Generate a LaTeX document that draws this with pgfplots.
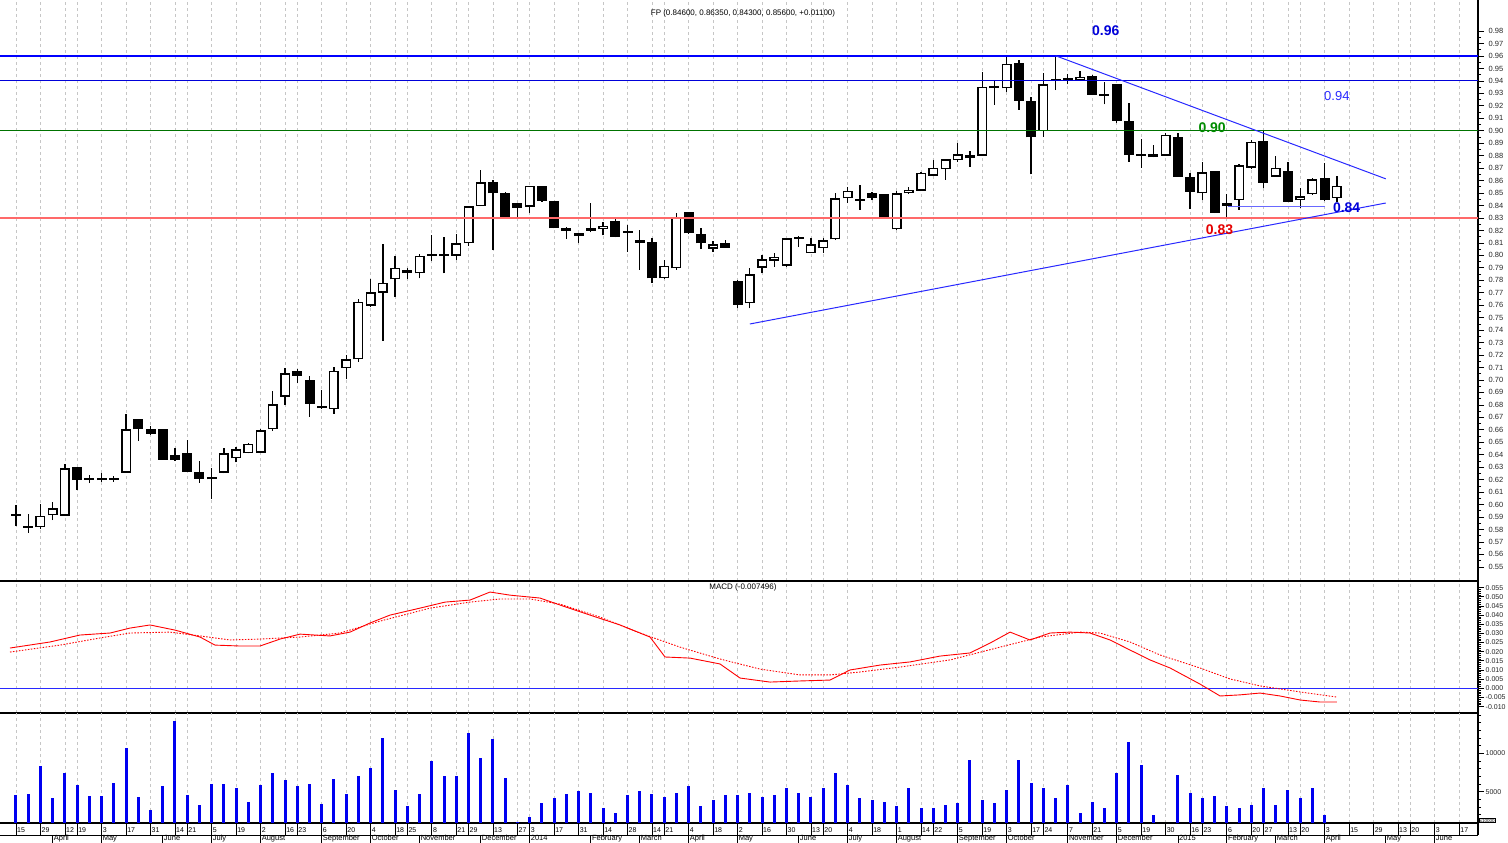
\documentclass[border=0pt]{standalone}
\usepackage{fontspec}
\setmainfont{Liberation Sans}
\usepackage{pgfplots}
\usepackage{pgfplotstable}
\pgfplotsset{compat=1.18}

\pgfplotstableread{
i o h l c
0 0.5920 0.5997 0.5828 0.5910
1 0.5812 0.5922 0.5774 0.5822
2 0.5818 0.6002 0.5802 0.5911
3 0.5914 0.6018 0.5876 0.5970
4 0.5911 0.6323 0.5910 0.6291
5 0.6299 0.6300 0.6117 0.6197
6 0.6203 0.6235 0.6171 0.6200
7 0.6200 0.6256 0.6183 0.6197
8 0.6200 0.6230 0.6183 0.6198
9 0.6256 0.6727 0.6256 0.6604
10 0.6687 0.6690 0.6510 0.6604
11 0.6606 0.6630 0.6560 0.6569
12 0.6606 0.6610 0.6358 0.6358
13 0.6398 0.6451 0.6350 0.6358
14 0.6411 0.6518 0.6262 0.6264
15 0.6259 0.6350 0.6176 0.6205
16 0.6203 0.6291 0.6045 0.6219
17 0.6256 0.6451 0.6250 0.6411
18 0.6371 0.6464 0.6339 0.6443
19 0.6411 0.6497 0.6410 0.6486
20 0.6416 0.6607 0.6410 0.6598
21 0.6604 0.6911 0.6594 0.6805
22 0.6866 0.7094 0.6799 0.7053
23 0.7074 0.7086 0.6973 0.7032
24 0.7000 0.7032 0.6705 0.6807
25 0.6794 0.6920 0.6770 0.6773
26 0.6765 0.7102 0.6727 0.7074
27 0.7094 0.7200 0.7005 0.7166
28 0.7166 0.7647 0.7147 0.7628
29 0.7596 0.7808 0.7588 0.7703
30 0.7700 0.8091 0.7315 0.7780
31 0.7808 0.7997 0.7668 0.7901
32 0.7883 0.7900 0.7810 0.7856
33 0.7856 0.8009 0.7816 0.7995
34 0.7995 0.8163 0.7957 0.7997
35 0.7995 0.8150 0.7856 0.7993
36 0.7995 0.8171 0.7963 0.8097
37 0.8097 0.8400 0.8075 0.8396
38 0.8396 0.8685 0.8396 0.8586
39 0.8586 0.8605 0.8043 0.8498
40 0.8503 0.8505 0.8300 0.8310
41 0.8418 0.8420 0.8310 0.8378
42 0.8391 0.8560 0.8338 0.8559
43 0.8559 0.8560 0.8431 0.8439
44 0.8439 0.8440 0.8217 0.8217
45 0.8222 0.8230 0.8131 0.8198
46 0.8177 0.8180 0.8097 0.8155
47 0.8198 0.8423 0.8185 0.8217
48 0.8209 0.8270 0.8161 0.8236
49 0.8276 0.8290 0.8145 0.8150
50 0.8182 0.8244 0.8029 0.8180
51 0.8102 0.8204 0.7883 0.8123
52 0.8110 0.8137 0.7781 0.7816
53 0.7816 0.7963 0.7810 0.7917
54 0.7896 0.8338 0.7883 0.8305
55 0.8346 0.8350 0.8175 0.8177
56 0.8171 0.8217 0.8049 0.8097
57 0.8051 0.8115 0.8030 0.8089
58 0.8097 0.8123 0.8060 0.8061
59 0.7797 0.7800 0.7575 0.7602
60 0.7615 0.7896 0.7575 0.7848
61 0.7901 0.8003 0.7856 0.7968
62 0.7955 0.8022 0.7909 0.7989
63 0.7915 0.8140 0.7910 0.8137
64 0.8131 0.8155 0.8065 0.8133
65 0.8017 0.8137 0.8017 0.8089
66 0.8057 0.8137 0.8017 0.8123
67 0.8129 0.8498 0.8123 0.8458
68 0.8458 0.8551 0.8423 0.8519
69 0.8439 0.8565 0.8364 0.8441
70 0.8498 0.8505 0.8444 0.8463
71 0.8490 0.8490 0.8300 0.8305
72 0.8209 0.8520 0.8200 0.8498
73 0.8498 0.8551 0.8495 0.8525
74 0.8517 0.8665 0.8515 0.8664
75 0.8637 0.8765 0.8635 0.8704
76 0.8691 0.8775 0.8605 0.8771
77 0.8765 0.8899 0.8752 0.8813
78 0.8805 0.8838 0.8711 0.8779
79 0.8800 0.9474 0.8800 0.9354
80 0.9362 0.9407 0.9207 0.9341
81 0.9341 0.9595 0.9313 0.9536
82 0.9546 0.9568 0.9167 0.9239
83 0.9239 0.9273 0.8650 0.8947
84 0.8998 0.9461 0.8952 0.9375
85 0.9400 0.9602 0.9327 0.9405
86 0.9407 0.9453 0.9373 0.9409
87 0.9402 0.9482 0.9400 0.9434
88 0.9442 0.9445 0.9285 0.9287
89 0.9280 0.9394 0.9212 0.9282
90 0.9375 0.9375 0.9060 0.9081
91 0.9078 0.9220 0.8752 0.8805
92 0.8797 0.8931 0.8704 0.8799
93 0.8787 0.8886 0.8787 0.8811
94 0.8800 0.8980 0.8800 0.8966
95 0.8947 0.8985 0.8630 0.8631
96 0.8631 0.8659 0.8372 0.8511
97 0.8498 0.8752 0.8444 0.8667
98 0.8677 0.8680 0.8338 0.8342
99 0.8396 0.8490 0.8297 0.8418
100 0.8444 0.8730 0.8364 0.8725
101 0.8704 0.8926 0.8693 0.8912
102 0.8920 0.8998 0.8538 0.8583
103 0.8631 0.8800 0.8630 0.8704
104 0.8677 0.8752 0.8430 0.8431
105 0.8444 0.8543 0.8383 0.8476
106 0.8490 0.8620 0.8485 0.8611
107 0.8623 0.8744 0.8440 0.8444
108 0.8460 0.8635 0.8430 0.8560
}\candles

\pgfplotstableread{
i v
0 4570
1 4660
2 8360
3 4140
4 7400
5 5870
6 4480
7 4480
8 6100
9 10740
10 4350
11 2570
12 5790
13 14270
14 4530
15 3220
16 5970
17 5970
18 5530
19 3610
20 5830
21 7400
22 6530
23 5790
24 5970
25 3350
26 6660
27 4660
28 7090
29 8050
30 12050
31 5180
32 3130
33 4740
34 9010
35 7090
36 7010
37 12620
38 9440
39 11840
40 6790
41 1000
42 1650
43 3480
44 4220
45 4660
46 5130
47 4870
48 2910
49 2220
50 4570
51 5130
52 4660
53 4350
54 4870
55 5700
56 3130
57 3920
58 4570
59 4570
60 4830
61 4310
62 4570
63 5480
64 4830
65 4310
66 5480
67 7440
68 5870
69 4180
70 3920
71 3660
72 3130
73 5480
74 2870
75 2870
76 3260
77 3520
78 9140
79 3920
80 3520
81 5220
82 9140
83 6140
84 5480
85 4180
86 5870
87 2220
88 3660
89 2870
90 7440
91 11490
92 8490
93 1960
94 520
95 7180
96 4830
97 4180
98 4440
99 3130
100 2870
101 3260
102 5480
103 3260
104 5220
105 4180
106 5480
107 1960
108 650
}\volume

\pgfplotstableread{
i m
-0.49 0.0220
2.78 0.0253
5.23 0.0291
7.69 0.0302
9.32 0.0329
10.96 0.0346
13.0 0.0318
15.05 0.0280
16.27 0.0236
18.32 0.0231
19.95 0.0231
21.59 0.0269
23.22 0.0296
25.67 0.0286
27.31 0.0307
28.95 0.0357
30.58 0.0400
33.03 0.0438
35.08 0.0471
37.12 0.0482
38.76 0.0526
40.39 0.0509
42.85 0.0493
44.48 0.0455
46.93 0.0400
49.39 0.0346
51.84 0.0280
53.07 0.0171
55.11 0.0165
57.56 0.0133
59.20 0.0056
61.65 0.0034
64.10 0.0040
66.56 0.0045
68.19 0.0100
70.65 0.0127
73.10 0.0144
75.55 0.0176
78.0 0.0193
79.64 0.0247
81.28 0.0307
82.91 0.0264
84.55 0.0302
86.18 0.0307
87.82 0.0302
89.45 0.0264
91.09 0.0209
92.72 0.0155
94.36 0.0111
96.81 0.0023
98.45 -0.0042
100.08 -0.0036
101.72 -0.0026
103.35 -0.0042
104.99 -0.0064
106.62 -0.0075
108.0 -0.0075
}\macd

\pgfplotstableread{
i s
-0.49 0.0198
3.60 0.0236
6.87 0.0275
9.32 0.0302
12.59 0.0307
15.05 0.0286
17.50 0.0264
19.95 0.0269
23.22 0.0280
26.49 0.0302
29.76 0.0367
33.85 0.0438
37.12 0.0471
39.57 0.0488
42.03 0.0488
44.48 0.0460
47.75 0.0389
51.02 0.0302
54.29 0.0225
57.56 0.0160
60.83 0.0105
64.10 0.0073
66.56 0.0073
69.01 0.0089
72.28 0.0116
76.37 0.0155
80.46 0.0225
83.73 0.0280
87.0 0.0307
88.63 0.0302
91.09 0.0253
93.54 0.0182
96.81 0.0111
99.26 0.0051
101.72 0.0013
104.99 -0.0020
108.0 -0.0048
}\signal

\def\dateticks{0,2,4,5,7,9,11,13,14,16,18,20,22,23,25,27,29,31,32,34,36,37,39,41,42,44,46,48,50,52,53,55,57,59,61,63,65,66,68,70,72,74,75,77,79,81,83,84,86,88,90,92,94,96,97,99,101,102,104,105,107,109,111,113,114,116,118}

\definecolor{lineblue}{RGB}{40,40,255}
\definecolor{linered}{RGB}{255,105,105}
\definecolor{lblgreen}{RGB}{0,140,0}
\definecolor{vol}{RGB}{0,0,240}

\pgfplotsset{
  panel/.style={
    scale only axis, width=1478pt, anchor=south west,
    xmin=-1.308, xmax=119.54,
    axis y line*=right, axis x line*=bottom,
    xtick/.expand once=\dateticks, xticklabels={}, xmajorticks=false,
    xmajorgrids,
    major grid style={gray!45, dash pattern=on 3pt off 3pt, line width=0.8pt},
    tick align=outside, major tick length=6pt, minor tick length=3pt,
    every tick/.style={black, line width=0.7pt},
    axis line style={black, line width=1.2pt},
    scaled y ticks=false,
    /pgf/number format/assume math mode=true,
    y tick label style={font=\fontsize{7}{8}\selectfont, text=black!85, inner sep=1.5pt},
  },
}

\begin{document}
\begin{tikzpicture}
\path[use as bounding box] (0pt,0pt) rectangle (1508pt,843pt);

% ---------------- price panel
\begin{axis}[panel, at={(0pt,262pt)}, height=581pt,
  ymin=0.53865, ymax=1.00494,
  ytick={0.55,0.56,0.57,0.58,0.59,0.60,0.61,0.62,0.63,0.64,0.65,0.66,0.67,0.68,0.69,0.70,0.71,0.72,0.73,0.74,0.75,0.76,0.77,0.78,0.79,0.80,0.81,0.82,0.83,0.84,0.85,0.86,0.87,0.88,0.89,0.90,0.91,0.92,0.93,0.94,0.95,0.96,0.97,0.98},
  minor y tick num=1,
  y tick label style={font=\fontsize{7.5}{8}\selectfont, xshift=3pt, /pgf/number format/fixed, /pgf/number format/fixed zerofill, /pgf/number format/precision=2},
]
% wicks
\addplot[draw=none, mark=none, forget plot,
  error bars/.cd, y dir=plus, y explicit, error mark=none,
  error bar style={draw=black, line width=1.3pt}]
  table[x=i, y=l, y error expr={\thisrow{h}-\thisrow{l}}] \candles;
% bodies (black)
\addplot[draw=none, mark=none, forget plot,
  error bars/.cd, y dir=plus, y explicit, error mark=none,
  error bar style={draw=black, line width=10pt}]
  table[x=i, y expr={min(\thisrow{o},\thisrow{c})}, y error expr={max(abs(\thisrow{c}-\thisrow{o}),0.0016)}] \candles;
% white interiors
\addplot[draw=none, mark=none, forget plot,
  restrict expr to domain={\thisrow{c}-\thisrow{o}}{0.0025:1},
  error bars/.cd, y dir=plus, y explicit, error mark=none,
  error bar style={draw=white, line width=7pt}]
  table[x=i, y expr={\thisrow{o}+0.0012}, y error expr={\thisrow{c}-\thisrow{o}-0.0024}] \candles;

% horizontal levels
\addplot[blue, line width=1.2pt] coordinates {(-1.308,0.96) (119.54,0.96)};
\addplot[blue!85!black, line width=1pt] coordinates {(-1.308,0.94) (119.54,0.94)};
\addplot[green!45!black, line width=0.9pt] coordinates {(-1.308,0.90) (119.54,0.90)};
\addplot[linered, line width=1.6pt] coordinates {(-1.308,0.83) (119.54,0.83)};
% trend lines
\addplot[lineblue, line width=1pt] coordinates {(85.0,0.9602) (112.0,0.8614)};
\addplot[lineblue, line width=1pt] coordinates {(60.0,0.7449) (112.0,0.8420)};
\addplot[lineblue!70, line width=1pt] coordinates {(99.1,0.8396) (107.0,0.8396)};

\node[font=\bfseries\fontsize{14}{14}\selectfont, text=blue!85!black] at (axis cs:89.1,0.9801) {0.96};
\node[font=\fontsize{13}{13}\selectfont, text=lineblue] at (axis cs:108.0,0.9279) {0.94};
\node[font=\bfseries\fontsize{14}{14}\selectfont, text=lblgreen] at (axis cs:97.8,0.9028) {0.90};
\node[font=\bfseries\fontsize{14}{14}\selectfont, text=red!90!black] at (axis cs:98.4,0.8204) {0.83};
\node[font=\bfseries\fontsize{14}{14}\selectfont, text=blue!85!black] at (axis cs:108.8,0.8384) {0.84};
\end{axis}

% ---------------- MACD panel
\begin{axis}[panel, at={(0pt,130pt)}, height=132pt,
  ymin=-0.0135, ymax=0.05863,
  ytick={-0.010,-0.005,0,0.005,0.010,0.015,0.020,0.025,0.030,0.035,0.040,0.045,0.050,0.055},
  minor y tick num=4,
  y tick label style={/pgf/number format/fixed, /pgf/number format/fixed zerofill, /pgf/number format/precision=3},
]
\addplot[lineblue, line width=1pt] coordinates {(-1.308,0) (119.54,0)};
\addplot[red, line width=0.9pt] table[x=i, y=m] \macd;
\addplot[red, line width=0.9pt, dash pattern=on 1.5pt off 1.5pt] table[x=i, y=s] \signal;
\end{axis}

% ---------------- Volume panel
\begin{axis}[panel, at={(0pt,20pt)}, height=110pt,
  ymin=914, ymax=15274,
  ytick={5000,10000}, yticklabels={5000,10000},
  minor ytick={1000,2000,3000,4000,6000,7000,8000,9000,11000,12000,13000,14000,15000},
]
\addplot[ycomb, draw=vol, line width=3pt] table[x=i, y=v] \volume;
\end{axis}

% ---------------- date rows
\begin{axis}[scale only axis, width=1478pt, height=12pt, at={(0pt,8pt)}, anchor=south west,
  xmin=-1.308, xmax=119.54, ymin=0, ymax=1,
  axis y line=none, axis x line*=bottom,
  axis line style={black, line width=0.8pt},
  xtick/.expand once=\dateticks,
  xticklabels={15,29,12,19,3,17,31,14,21,5,19,2,16,23,6,20,4,18,25,8,21,29,13,27,3,17,31,14,28,14,21,4,18,2,16,30,13,20,4,18,1,14,22,5,19,3,17,24,7,21,5,19,30,16,23,6,20,27,13,20,3,15,29,13,20,3,17},
  xtick align=inside, major tick length=12pt,
  every tick/.style={black, line width=0.7pt},
  xticklabel style={anchor=south west, inner sep=1pt, yshift=1pt, font=\fontsize{7}{8}\selectfont},
  extra x ticks={3,7,12,16,20,25,29,33,38,42,47,51,55,59,64,68,72,77,81,86,90,95,99,103,107,112,116},
  extra x tick labels={April,May,June,July,August,September,October,November,December,2014,February,March,April,May,June,July,August,September,October,November,December,2015,February,March,April,May,June},
  extra x tick style={xtick align=outside, major tick length=8pt,
     xticklabel style={anchor=north west, inner sep=1pt, yshift=8pt, font=\fontsize{7.5}{8}\selectfont}},
]
\end{axis}

% titles and right-axis extras
\node[font=\fontsize{8}{9}\selectfont] at (743pt,830pt) {FP (0.84600, 0.86350, 0.84300, 0.85600, +0.01100)};
\node[font=\fontsize{8}{9}\selectfont] at (743pt,256pt) {MACD (-0.007496)};
\node[draw=black, line width=0.5pt, inner sep=0.6pt, font=\fontsize{4.5}{5}\selectfont, anchor=south west] at (1479pt,20pt) {x10000};
\draw[black, line width=1.2pt] (1478pt,8pt) -- (1478pt,20pt);
\end{tikzpicture}
\end{document}
